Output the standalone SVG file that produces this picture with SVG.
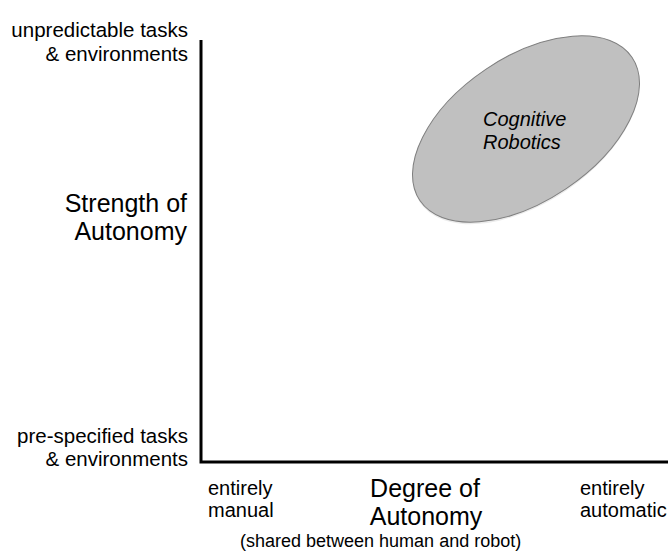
<svg xmlns="http://www.w3.org/2000/svg" width="668" height="556" viewBox="0 0 668 556">
  <style>
    text { font-family: "Liberation Sans", Arial, sans-serif; fill: #000; }
    .end { text-anchor: end; }
    .mid { text-anchor: middle; }
    .small { font-size: 20.5px; }
    .side { font-size: 20px; }
    .big { font-size: 25px; }
    .note { font-size: 18px; }
    .axis { stroke: #000; stroke-width: 3; fill: none; }
    .region { fill: #c0c0c0; stroke: #7f7f7f; stroke-width: 1; }
    .region-label { font-size: 20px; font-style: italic; }
  </style>

  <!-- axes -->
  <g id="axes">
    <path class="axis" d="M201 40 V462 H668"/>
  </g>

  <!-- vertical axis labels -->
  <g id="y-top">
    <text class="small end" x="188" y="37">unpredictable tasks</text>
    <text class="small end" x="188" y="61">&amp; environments</text>
  </g>
  <g id="y-title">
    <text class="big end" x="187" y="212">Strength of</text>
    <text class="big end" x="187" y="240">Autonomy</text>
  </g>
  <g id="y-bottom">
    <text class="small end" x="188" y="443">pre-specified tasks</text>
    <text class="small end" x="188" y="466">&amp; environments</text>
  </g>

  <!-- horizontal axis labels -->
  <g id="x-left">
    <text class="side" x="208" y="495">entirely</text>
    <text class="side" x="208" y="517">manual</text>
  </g>
  <g id="x-title">
    <text class="big mid" x="425" y="497">Degree of</text>
    <text class="big mid" x="426" y="525">Autonomy</text>
    <text class="note" x="240" y="547">(shared between human and robot)</text>
  </g>
  <g id="x-right">
    <text class="side" x="580" y="495">entirely</text>
    <text class="side" x="580" y="517">automatic</text>
  </g>

  <!-- cognitive robotics region -->
  <g id="cognitive-robotics">
    <ellipse cx="526" cy="131" rx="128" ry="72" transform="rotate(-34 526 131)" fill="#000" opacity="0.08"/>
    <ellipse class="region" cx="526" cy="129" rx="128" ry="72" transform="rotate(-34 526 129)"/>
    <text class="region-label" x="483" y="126">Cognitive</text>
    <text class="region-label" x="483" y="149">Robotics</text>
  </g>
</svg>
